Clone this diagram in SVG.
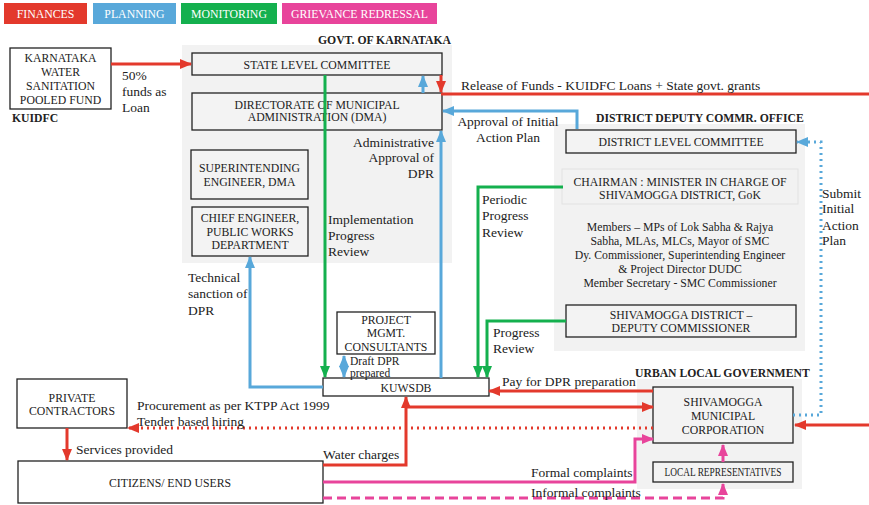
<svg xmlns="http://www.w3.org/2000/svg" width="869" height="505" viewBox="0 0 869 505" font-family="Liberation Serif, serif">
  <style>
    text { font-family: 'Liberation Serif', serif; fill: #222; }
    .box { fill: #f3f3f3; stroke: #222; stroke-width: 1.3; }
    .wbox { fill: #fff; stroke: #222; stroke-width: 1.3; }
    .panel { fill: #f2f2f2; stroke: none; }
    .bt { font-size: 11.75px; text-anchor: middle; }
    .lbl { font-size: 13.5px; }
    .ttl { font-size: 11.7px; font-weight: bold; }
    .leg { font-size: 11.8px; fill: #fff; text-anchor: middle; }
    .red { stroke: #e3392c; stroke-width: 3; fill: none; }
    .blue { stroke: #58a8da; stroke-width: 3; fill: none; }
    .green { stroke: #14b04e; stroke-width: 3; fill: none; }
    .pink { stroke: #e8449b; stroke-width: 3; fill: none; }
    .dot { stroke-dasharray: 2 4; }
    .dash { stroke-dasharray: 9 5; }
  </style>
  <defs>
    <marker id="ar" markerUnits="userSpaceOnUse" markerWidth="12" markerHeight="10" refX="11" refY="5" orient="auto-start-reverse"><path d="M0,0 L12,5 L0,10 z" fill="#e3392c"/></marker>
    <marker id="ab" markerUnits="userSpaceOnUse" markerWidth="12" markerHeight="10" refX="11" refY="5" orient="auto-start-reverse"><path d="M0,0 L12,5 L0,10 z" fill="#58a8da"/></marker>
    <marker id="ag" markerUnits="userSpaceOnUse" markerWidth="12" markerHeight="10" refX="11" refY="5" orient="auto-start-reverse"><path d="M0,0 L12,5 L0,10 z" fill="#14b04e"/></marker>
    <marker id="ap" markerUnits="userSpaceOnUse" markerWidth="12" markerHeight="10" refX="11" refY="5" orient="auto-start-reverse"><path d="M0,0 L12,5 L0,10 z" fill="#e8449b"/></marker>
  </defs>

  <!-- legend -->
  <g id="legend">
    <rect x="4" y="3" width="83" height="21" fill="#e3392c"/>
    <text class="leg" x="45.5" y="18">FINANCES</text>
    <rect x="93" y="3" width="83" height="21" fill="#58a8da"/>
    <text class="leg" x="134.5" y="18">PLANNING</text>
    <rect x="181" y="3" width="96" height="21" fill="#14b04e"/>
    <text class="leg" x="229" y="18">MONITORING</text>
    <rect x="282" y="3" width="155" height="21" fill="#e8449b"/>
    <text class="leg" x="359.5" y="18">GRIEVANCE REDRESSAL</text>
  </g>

  <!-- background panels -->
  <g id="panels">
    <rect class="panel" x="182" y="45" width="270" height="218"/>
    <text class="ttl" x="318" y="44">GOVT. OF KARNATAKA</text>
    <rect class="panel" x="554" y="124" width="251" height="227"/>
    <text class="ttl" x="596" y="122">DISTRICT DEPUTY COMMR. OFFICE</text>
    <rect class="panel" x="637" y="379" width="165" height="110"/>
    <text class="ttl" x="635" y="377">URBAN LOCAL GOVERNMENT</text>
  </g>

  <!-- nodes -->
  <g id="kuidfc">
    <rect class="wbox" x="10" y="48" width="101" height="61"/>
    <text class="bt" x="60.5" y="62">KARNATAKA</text>
    <text class="bt" x="60.5" y="76">WATER</text>
    <text class="bt" x="60.5" y="90">SANITATION</text>
    <text class="bt" x="60.5" y="104">POOLED FUND</text>
    <text class="ttl" x="12" y="122">KUIDFC</text>
  </g>
  <g id="slc">
    <rect class="box" x="192" y="53" width="250" height="22"/>
    <text class="bt" x="317" y="68.5">STATE LEVEL COMMITTEE</text>
  </g>
  <g id="dma">
    <rect class="box" x="192" y="93" width="250" height="37"/>
    <text class="bt" x="317" y="109">DIRECTORATE OF MUNICIPAL</text>
    <text class="bt" x="317" y="121">ADMINISTRATION (DMA)</text>
  </g>
  <g id="se-dma">
    <rect class="box" x="191" y="150" width="117" height="49"/>
    <text class="bt" x="249.5" y="172">SUPERINTENDING</text>
    <text class="bt" x="249.5" y="186">ENGINEER, DMA</text>
  </g>
  <g id="ce-pwd">
    <rect class="box" x="192" y="207" width="116" height="49"/>
    <text class="bt" x="250" y="222">CHIEF ENGINEER,</text>
    <text class="bt" x="250" y="236">PUBLIC WORKS</text>
    <text class="bt" x="250" y="249">DEPARTMENT</text>
  </g>
  <g id="dlc">
    <rect class="box" x="566" y="130" width="230" height="23"/>
    <text class="bt" x="681" y="146">DISTRICT LEVEL COMMITTEE</text>
  </g>
  <g id="chairman">
    <rect x="562" y="169" width="236" height="35" fill="#f2f2f2" stroke="#e2e2e2" stroke-width="1"/>
    <text class="bt" x="680" y="186">CHAIRMAN : MINISTER IN CHARGE OF</text>
    <text class="bt" x="680" y="199">SHIVAMOGGA DISTRICT, GoK</text>
  </g>
  <g id="members">
    <text class="bt" x="680" y="231">Members – MPs of Lok Sabha &amp; Rajya</text>
    <text class="bt" x="680" y="245">Sabha, MLAs, MLCs, Mayor of SMC</text>
    <text class="bt" x="680" y="259">Dy. Commissioner, Superintending Engineer</text>
    <text class="bt" x="680" y="273">&amp;  Project Director DUDC</text>
    <text class="bt" x="680" y="287">Member Secretary - SMC Commissioner</text>
  </g>
  <g id="dc">
    <rect class="box" x="566" y="305" width="230" height="32"/>
    <text class="bt" x="681" y="319">SHIVAMOGGA DISTRICT –</text>
    <text class="bt" x="681" y="332">DEPUTY COMMISSIONER</text>
  </g>
  <g id="pmc">
    <rect class="wbox" x="337" y="312" width="98" height="42"/>
    <text class="bt" x="386" y="324">PROJECT</text>
    <text class="bt" x="386" y="337">MGMT.</text>
    <text class="bt" x="386" y="351">CONSULTANTS</text>
  </g>
  <g id="kuwsdb">
    <rect class="wbox" x="323" y="378" width="166" height="18"/>
    <text class="bt" x="406" y="392">KUWSDB</text>
  </g>
  <g id="smc">
    <rect class="box" x="653" y="387" width="140" height="56"/>
    <text class="bt" x="723" y="406">SHIVAMOGGA</text>
    <text class="bt" x="723" y="420">MUNICIPAL</text>
    <text class="bt" x="723" y="434">CORPORATION</text>
  </g>
  <g id="local-reps">
    <rect class="box" x="653" y="462" width="140" height="20"/>
    <text class="bt" x="723" y="476" textLength="117" lengthAdjust="spacingAndGlyphs">LOCAL REPRESENTATIVES</text>
  </g>
  <g id="contractors">
    <rect class="wbox" x="17" y="379" width="110" height="49"/>
    <text class="bt" x="72" y="402">PRIVATE</text>
    <text class="bt" x="72" y="415">CONTRACTORS</text>
  </g>
  <g id="citizens">
    <rect class="wbox" x="18" y="461" width="305" height="42"/>
    <text class="bt" x="170" y="487">CITIZENS/ END USERS</text>
  </g>

  <!-- connectors -->
  <g id="connectors">
    <!-- finances -->
    <path class="red" d="M111,64 H191" marker-end="url(#ar)"/>
    <path class="red" d="M441,75 V92" marker-end="url(#ar)"/>
    <path class="red" d="M441,94 H869"/>
    <path class="red" d="M653,391 H489" marker-end="url(#ar)"/>
    <path class="red" d="M323,465 H406 V397" marker-end="url(#ar)"/>
    <path class="red" d="M406,407 H653" marker-end="url(#ar)"/>
    <path class="red dot" d="M653,428 H128" marker-end="url(#ar)"/>
    <path class="red" d="M869,425 H795" marker-end="url(#ar)"/>
    <path class="red" d="M67,428 V460" marker-end="url(#ar)"/>
    <!-- planning -->
    <path class="blue" d="M423,93 V76" marker-end="url(#ab)"/>
    <path class="blue" d="M441,378 V131" marker-end="url(#ab)"/>
    <path class="blue" d="M577,129 V111 H443" marker-end="url(#ab)"/>
    <path class="blue" d="M323,387 H250 V257" marker-end="url(#ab)"/>
    <path class="blue" d="M344,356 V377" marker-start="url(#ab)" marker-end="url(#ab)"/>
    <path class="blue dot" d="M793,415 H821 V142 H797" marker-end="url(#ab)"/>
    <!-- monitoring -->
    <path class="green" d="M325,75 V377" marker-end="url(#ag)"/>
    <path class="green" d="M563,187 H478 V377" marker-end="url(#ag)"/>
    <path class="green" d="M566,321 H487 V377" marker-end="url(#ag)"/>
    <!-- grievance redressal -->
    <path class="pink" d="M323,482 H635 V439 H653" marker-end="url(#ap)"/>
    <path class="pink dash" d="M323,498 H723 V484" marker-end="url(#ap)"/>
    <path class="pink dash" d="M723,462 V445" marker-end="url(#ap)"/>
  </g>

  <!-- connector labels -->
  <g id="labels">
    <text class="lbl" x="122" y="80">50%</text>
    <text class="lbl" x="122" y="96">funds as</text>
    <text class="lbl" x="122" y="112">Loan</text>
    <text class="lbl" x="461" y="90">Release of Funds - KUIDFC Loans + State govt. grants</text>
    <text class="lbl" x="508" y="126" text-anchor="middle">Approval of Initial</text>
    <text class="lbl" x="508" y="142" text-anchor="middle">Action Plan</text>
    <text class="lbl" x="434" y="147" text-anchor="end">Administrative</text>
    <text class="lbl" x="434" y="162" text-anchor="end">Approval of</text>
    <text class="lbl" x="434" y="178" text-anchor="end">DPR</text>
    <text class="lbl" x="328" y="224">Implementation</text>
    <text class="lbl" x="328" y="240">Progress</text>
    <text class="lbl" x="328" y="256">Review</text>
    <text class="lbl" x="482" y="204">Periodic</text>
    <text class="lbl" x="482" y="220">Progress</text>
    <text class="lbl" x="482" y="237">Review</text>
    <text class="lbl" x="493" y="337">Progress</text>
    <text class="lbl" x="493" y="353">Review</text>
    <text class="lbl" x="822" y="198">Submit</text>
    <text class="lbl" x="822" y="213">Initial</text>
    <text class="lbl" x="822" y="230">Action</text>
    <text class="lbl" x="822" y="245">Plan</text>
    <text class="lbl" x="188" y="282">Technical</text>
    <text class="lbl" x="188" y="298">sanction of</text>
    <text class="lbl" x="188" y="315">DPR</text>
    <text x="350" y="365" style="font-size:11.5px">Draft DPR</text>
    <text x="350" y="377" style="font-size:11.5px">prepared</text>
    <text class="lbl" x="502" y="386">Pay for DPR preparation</text>
    <text class="lbl" x="137" y="410">Procurement as per KTPP Act 1999</text>
    <text class="lbl" x="137" y="426">Tender based hiring</text>
    <text class="lbl" x="76" y="454">Services provided</text>
    <text class="lbl" x="323" y="459">Water charges</text>
    <text class="lbl" x="531" y="477">Formal complaints</text>
    <text class="lbl" x="531" y="497">Informal complaints</text>
  </g>
</svg>
